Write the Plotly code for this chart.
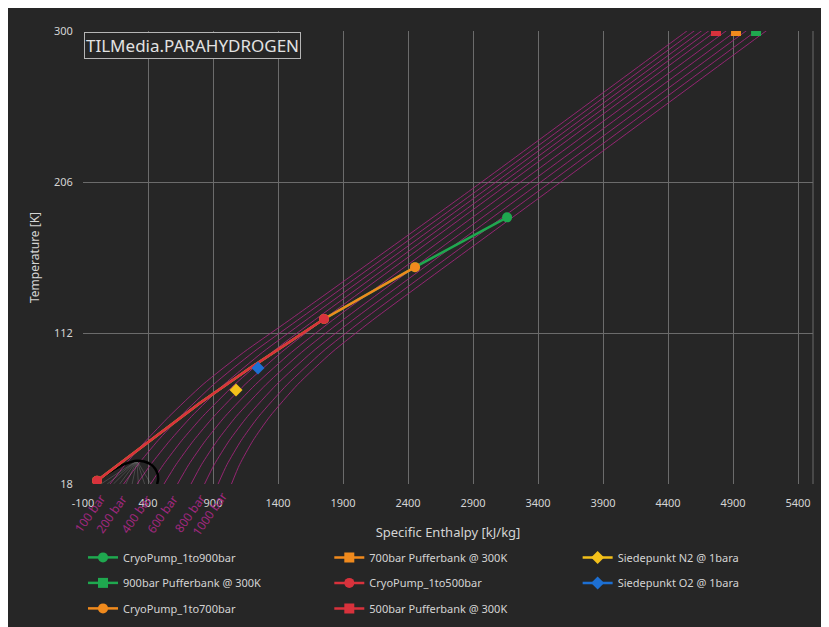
import plotly.graph_objects as go

# ---------------- data ----------------
x_ticks = [-100, 400, 900, 1400, 1900, 2400, 2900, 3400, 3900, 4400, 4900, 5400]
y_ticks = [18, 112, 206, 300]

# isobars (temperature grid shared, enthalpy per pressure)
iso_T = [18, 30, 45, 60, 80, 100, 120, 200, 300, 330]
iso_100 = [108, 224, 385, 562, 823, 1136, 1487, 2865, 4545, 5049]
iso_200 = [212, 322, 476, 648, 905, 1209, 1551, 2920, 4600, 5104]
iso_300 = [316, 420, 568, 734, 986, 1281, 1615, 2976, 4656, 5160]
iso_400 = [420, 518, 659, 820, 1067, 1354, 1680, 3032, 4712, 5216]
iso_500 = [523, 615, 750, 906, 1147, 1426, 1743, 3089, 4769, 5273]
iso_600 = [627, 713, 842, 992, 1228, 1504, 1820, 3166, 4846, 5350]
iso_700 = [731, 811, 933, 1078, 1309, 1582, 1897, 3243, 4923, 5427]
iso_800 = [835, 909, 1025, 1165, 1390, 1660, 1974, 3320, 5000, 5504]
iso_900 = [939, 1007, 1116, 1251, 1472, 1738, 2051, 3397, 5077, 5581]
iso_1000 = [1042, 1104, 1207, 1337, 1552, 1815, 2127, 3474, 5154, 5658]
isobars = [iso_100, iso_200, iso_300, iso_400, iso_500,
           iso_600, iso_700, iso_800, iso_900, iso_1000]

iso_labels = ["100 bar", "200 bar", "400 bar", "600 bar", "800 bar", "1000 bar"]
iso_label_h = [-46, 123, 315, 515, 723, 877]

# saturation dome
dome_h = [-10, 8, 60, 130, 210, 270, 315, 370, 420, 455, 474, 478, 470]
dome_T = [18, 20, 23, 26.5, 30, 31.8, 32.5, 32.0, 30.3, 27.5, 24, 21, 18]
# quality lines (bottom enthalpy at 18 K -> critical region)
q_bottom_h = [38, 86, 134, 182, 230, 278, 326, 374, 422]
crit_h, crit_T = 315, 32.5

# process paths (1 bar liquid -> 500 / 700 / 900 bar)
pump_h = [8, 800, 1185, 1754, 2454, 3162]
pump_T = [20, 68.4, 90.2, 120.7, 153, 184]
bank_T = 300
bank500_h, bank700_h, bank900_h = 4769, 4923, 5077
n2_h, n2_T = 1077, 76.5
o2_h, o2_T = 1246, 90.2

GREEN, ORANGE, RED = "#1fa84f", "#f08a1d", "#d8323c"
YELLOW, BLUE = "#f3c01a", "#1d6fd2"
ISO = "rgba(160,38,122,0.9)"
BG = "#262626"
GRID = "#6b6b6b"
TXT = "#d4d4d4"
FONT = "Noto Sans"

fig = go.Figure()

for hs in isobars:
    fig.add_trace(go.Scatter(x=hs, y=iso_T, mode="lines", line=dict(color=ISO, width=1, shape="spline", smoothing=0.6),
                             showlegend=False, hoverinfo="skip"))
for hb in q_bottom_h:
    fig.add_trace(go.Scatter(x=[hb, crit_h], y=[18, crit_T], mode="lines",
                             line=dict(color="rgba(190,190,190,0.3)", width=0.8),
                             showlegend=False, hoverinfo="skip"))
fig.add_trace(go.Scatter(x=dome_h, y=dome_T, mode="lines", line=dict(color="black", width=2.5, shape="spline"),
                         showlegend=False, hoverinfo="skip"))


def proc(xs, ys, name, color, symbol, legend, rank, shown=None):
    kw = {}
    if shown is not None:
        kw = dict(selectedpoints=shown, unselected=dict(marker=dict(opacity=0)),
                  selected=dict(marker=dict(opacity=1)))
    fig.add_trace(go.Scatter(x=xs, y=ys, mode="lines+markers", name=name,
                             line=dict(color=color, width=2.5),
                             marker=dict(size=10, color=color, symbol=symbol),
                             legend=legend, legendrank=rank, legendgroup=name, **kw))


proc(pump_h[:6], pump_T[:6], "CryoPump_1to900bar", GREEN, "circle", "legend", 1, [0, 3, 4, 5])
proc(pump_h[:5], pump_T[:5], "CryoPump_1to700bar", ORANGE, "circle", "legend", 3, [0, 3, 4])
proc(pump_h[:4], pump_T[:4], "CryoPump_1to500bar", RED, "circle", "legend2", 2, [0, 3])
proc([bank900_h], [bank_T], "900bar Pufferbank @ 300K", GREEN, "square", "legend", 2)
proc([bank700_h], [bank_T], "700bar Pufferbank @ 300K", ORANGE, "square", "legend2", 1)
proc([bank500_h], [bank_T], "500bar Pufferbank @ 300K", RED, "square", "legend2", 3)
proc([n2_h], [n2_T], "Siedepunkt N2 @ 1bara", YELLOW, "diamond", "legend3", 1)
proc([o2_h], [o2_T], "Siedepunkt O2 @ 1bara", BLUE, "diamond", "legend3", 2)

annotations = [dict(text="TILMedia.PARAHYDROGEN", xref="paper", yref="paper", x=0.002, y=0.998,
                    xanchor="left", yanchor="top", showarrow=False,
                    font=dict(family=FONT, size=17, color="#e2e2e2"),
                    bordercolor="#b5b5b5", borderwidth=1, borderpad=1, bgcolor=BG)]
for lab, hx in zip(iso_labels, iso_label_h):
    annotations.append(dict(text=lab, x=hx, xref="x", y=-0.066, yref="paper", textangle=-55,
                            showarrow=False, xanchor="center", yanchor="middle",
                            font=dict(family=FONT, size=12, color="#a0287f")))

leg_common = dict(orientation="v", yanchor="top", xanchor="left", bgcolor="rgba(0,0,0,0)",
                  font=dict(family=FONT, size=11, color=TXT), tracegroupgap=6.5, traceorder="grouped",
                  itemwidth=30)
fig.update_layout(
    width=829, height=627,
    margin=dict(l=75, r=24, t=23, b=151),
    paper_bgcolor=BG, plot_bgcolor=BG,
    font=dict(family=FONT, color=TXT, size=11),
    annotations=annotations,
    legend=dict(x=0.0, y=-0.130, **leg_common),
    legend2=dict(x=0.3374, y=-0.130, **leg_common),
    legend3=dict(x=0.6776, y=-0.130, **leg_common),
    shapes=[dict(type="line", xref="paper", yref="paper", x0=1, x1=1, y0=0, y1=1,
                 line=dict(color=GRID, width=1))],
    xaxis=dict(range=[-100, 5515], tickvals=x_ticks, ticktext=[str(v) for v in x_ticks],
               showgrid=True, gridcolor=GRID, gridwidth=1, zeroline=False, showline=False,
               ticks="outside", ticklen=9, tickcolor=BG, tickfont=dict(size=11, color=TXT),
               title=dict(text="Specific Enthalpy [kJ/kg]", font=dict(size=13, color=TXT), standoff=18)),
    yaxis=dict(range=[18, 300], tickvals=y_ticks, ticktext=[str(v) for v in y_ticks],
               showgrid=True, gridcolor=GRID, gridwidth=1, zeroline=False, showline=False,
               ticks="outside", ticklen=7, tickcolor=BG, tickfont=dict(size=11, color=TXT),
               title=dict(text="Temperature [K]", font=dict(size=12, color=TXT), standoff=11)),
)

fig.write_html("out.html")
